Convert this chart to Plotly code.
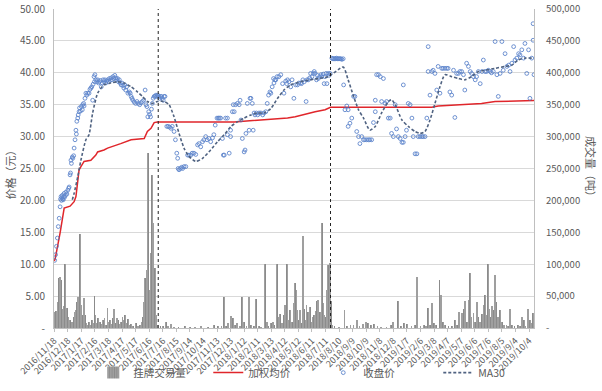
import pandas as pd
import plotly.graph_objects as go

start_date = "2016-11-18"

tick_labels = ["2016/11/18","2016/12/18","2017/1/17","2017/2/16","2017/3/18","2017/4/17","2017/5/17",
               "2017/6/16","2017/7/16","2017/8/15","2017/9/14","2017/10/14","2017/11/13","2017/12/13",
               "2018/1/12","2018/2/11","2018/3/13","2018/4/12","2018/5/12","2018/6/11","2018/7/11",
               "2018/8/10","2018/9/9","2018/10/9","2018/11/8","2018/12/8","2019/1/7","2019/2/6",
               "2019/3/8","2019/4/7","2019/5/7","2019/6/6","2019/7/6","2019/8/5","2019/9/4","2019/10/4"]

# day offsets from start_date
close_day = [1,3,5,7,9,11,13,14,15,16,17,18,19,20,21,22,23,25,26,28,30,32,33,35,36,37,38,40,41,43,44,
             46,48,49,50,52,53,55,56,58,60,62,63,65,66,68,70,72,74,77,79,81,83,85,86,88,89,90,92,94,96,98,
             100,102,104,106,108,110,112,114,116,118,120,122,124,126,128,130,132,134,136,138,140,142,144,146,148,150,
             152,154,156,158,160,163,166,168,170,172,174,177,180,183,186,189,192,195,198,201,203,205,207,209,211,213,
             215,217,219,221,223,225,227,229,231,233,235,237,239,241,243,245,
             249,252,255,258,261,265,268,271,273,274,276,279,282,284,287,291,295,298,302,305,309,313,317,320,324,328,
             331,335,338,342,346,350,353,356,360,363,365,368,372,374,376,379,383,383,387,390,390,394,396,398,401,405,
             409,411,413,416,420,422,424,427,431,433,435,438,440,442,444,447,450,453,457,461,464,468,471,474,477,479,
             482,485,486,488,490,493,497,501,505,508,512,514,516,519,523,526,530,534,538,541,545,
             547,550,553,557,559,562,565,567,570,573,575,577,580,582,584,587,590,592,595,597,599,601,603,606,608,610,
             614,616,618,620,622,624,626,628,630,632,634,636,639,640,643,647,650,650,654,658,662,665,669,673,676,680,
             684,687,691,695,698,702,706,710,710,713,717,721,724,728,732,735,739,743,746,750,754,757,761,765,769,772,
             772,776,779,783,787,791,794,798,802,805,809,813,816,820,824,827,827,831,835,838,842,846,849,853,857,860,
             864,868,871,875,879,883,886,890,894,897,901,905,908,912,916,920,923,927,931,934,938,942,946,949,953,956,
             960,964,967,971,975,979,982,986,990,993,997,1001,1005,1008,1012,1016,1019,1023,1027,1030,1034,1038,1041,
             1045,1049,1052,1056,1059,1059,1061]
close_price = [10.6,11.5,12.8,14.1,15.9,17.2,19.0,20.2,20.6,20.0,20.4,20.8,20.2,20.1,20.6,21.1,20.5,20.8,21.3,21.0,21.6,21.9,22.1,24.0,24.3,26.3,25.8,26.8,26.6,27.0,28.2,
               29.5,31.0,30.4,32.4,32.9,33.4,33.9,34.5,34.0,34.7,34.2,35.0,35.2,34.8,36.0,36.8,36.5,36.8,36.8,37.4,37.6,37.8,35.7,38.2,39.4,38.6,39.7,38.9,38.6,38.9,38.4,
               38.6,38.8,37.8,38.4,38.9,38.6,38.9,38.4,38.7,38.9,38.6,39.1,38.8,39.2,38.9,39.4,39.1,39.6,39.2,38.9,39.1,38.6,38.9,38.4,38.1,38.4,
               38.0,37.6,38.1,37.3,37.8,36.8,37.0,36.8,36.3,36.0,35.7,35.4,35.2,35.5,35.2,35.0,35.3,35.5,35.7,37.3,35.0,34.7,33.1,33.9,33.5,33.1,
               34.3,35.2,36.0,36.3,36.3,36.5,36.3,36.5,36.3,36.0,36.3,36.3,36.0,35.7,36.3,36.3,
               31.6,31.6,31.5,31.3,31.6,30.8,29.5,27.4,26.6,25.0,24.8,25.0,25.2,25.0,25.3,25.3,27.1,27.1,27.1,27.4,27.4,27.2,28.7,28.9,28.4,29.2,
               29.5,30.0,29.5,29.7,29.2,29.8,30.3,31.8,32.9,32.9,32.9,32.9,29.7,27.1,27.1,32.9,32.9,30.3,27.4,30.0,31.0,33.9,35.0,33.9,35.0,35.2,
               35.0,35.7,32.6,29.7,27.6,27.9,30.5,35.2,31.0,36.0,36.0,35.2,31.0,33.7,33.4,33.7,33.4,33.7,33.7,33.4,33.7,33.9,35.2,36.5,37.0,36.8,
               37.8,39.1,38.4,38.9,38.9,39.4,39.4,39.7,38.3,36.8,38.7,38.3,38.9,38.6,37.8,38.9,36.0,38.1,38.1,38.4,38.4,
               38.3,38.9,38.6,35.5,38.9,38.9,39.2,39.9,39.4,39.9,40.2,39.9,38.9,39.6,39.1,39.4,39.7,39.4,39.8,38.3,39.4,39.9,38.3,39.9,39.6,39.9,
               42.3,42.2,42.2,42.2,42.2,42.3,42.2,42.2,42.2,42.2,42.2,42.1,42.2,38.1,34.2,34.8,34.2,31.6,32.1,32.9,36.3,36.3,30.8,30.0,28.9,30.0,
               29.5,29.5,29.5,29.5,29.5,29.5,32.2,33.9,35.7,39.7,39.7,39.4,35.5,39.1,35.2,35.5,32.9,32.9,30.5,30.0,35.0,31.2,30.0,29.7,29.1,29.1,
               38.1,30.0,31.0,35.2,35.0,32.9,30.0,27.3,27.3,30.0,30.0,30.0,30.0,30.0,32.9,44.1,40.2,36.5,40.2,40.4,39.9,37.3,41.0,36.8,40.7,40.7,
               40.7,40.7,40.7,37.0,36.5,40.4,33.0,39.9,39.9,40.2,40.2,39.7,37.3,41.5,41.0,40.2,39.9,39.4,38.9,39.4,40.2,38.3,40.2,42.0,40.2,40.2,
               40.4,40.2,40.0,40.2,44.9,39.7,36.3,39.9,44.9,40.4,43.0,41.0,41.2,40.2,41.5,44.1,42.0,42.3,43.0,42.8,43.6,42.3,44.6,
               39.9,43.6,36.0,42.3,45.1,47.7,39.7]

ma_day = [40,44,52,59,70,77,85,96,110,125,140,155,170,184,195,206,217,228,243,254,265,276,287,298,313,328,346,
          361,376,391,405,420,435,449,464,479,494,508,523,545,575,606,639,650,662,673,684,698,710,724,739,746,754,
          769,783,798,809,820,831,842,853,864,879,894,908,923,938,953,975,997,1012,1026,1041,1056]
ma_price = [20.1,21.1,23.7,26.3,29.5,30.3,33.7,36.8,38.1,38.4,38.6,38.4,37.8,37.0,36.3,35.5,35.2,35.5,35.5,35.0,33.1,
            30.5,28.2,26.9,26.1,26.6,27.9,29.2,30.3,31.6,32.3,32.9,33.4,33.7,33.7,34.4,36.0,37.3,38.1,38.6,39.0,39.4,
            40.9,38.9,36.3,34.2,32.9,31.0,31.6,33.7,35.5,35.8,35.0,32.6,31.6,30.8,30.5,30.8,32.6,35.2,37.8,39.7,39.4,
            39.1,38.9,39.4,40.2,40.4,40.7,41.0,41.2,42.0,42.3,42.3]

wavg_day = [0,2,13,17,22,35,44,48,55,59,66,81,92,96,110,118,125,147,170,199,206,214,221,228,398,471,516,533,
            553,577,599,611,680,835,849,901,945,975,1048,1061]
wavg_price = [10.5,10.8,14.9,16.9,18.8,19.1,19.8,20.6,24.8,25.3,26.1,26.3,27.1,27.6,27.9,28.2,28.4,28.9,29.5,29.7,
              30.8,31.3,32.2,32.3,32.3,32.6,32.9,33.1,33.5,33.9,34.2,34.6,34.6,34.6,34.8,35.0,35.2,35.5,35.65,35.65]

vol_day = [2,4,6,9,11,13,15,17,19,21,23,25,27,29,31,33,35,37,40,43,45,47,50,52,55,57,59,61,63,65,67,69,71,74,77,
           81,83,86,89,91,93,96,99,102,105,108,111,114,118,121,124,127,130,133,136,139,142,145,148,151,154,157,160,
           163,166,170,175,180,185,190,194,197,199,201,203,204,206,208,210,211,213,215,217,219,220,222,224,226,228,
           235,240,247,252,258,265,275,290,300,312,325,340,354,362,370,376,380,384,391,396,400,404,410,416,420,425,
           431,436,441,447,452,458,466,470,474,479,483,487,492,496,500,504,507,510,514,518,522,526,529,532,534,537,
           540,543,546,550,553,556,558,561,564,566,569,572,575,578,581,584,588,592,594,597,600,602,605,607,610,612,
           615,620,630,642,648,655,662,669,675,683,689,694,700,708,715,722,735,745,750,760,766,773,780,790,797,803,
           810,818,822,826,831,836,840,845,852,855,859,865,872,880,886,890,895,901,905,909,913,916,920,923,927,931,
           935,938,942,946,950,953,956,959,962,966,968,972,975,978,982,986,990,995,1000,1004,1008,1012,1018,1025,
           1030,1034,1038,1042,1048,1052,1056,1058,1061]
vol_tons = [25000,26000,12000,40000,78000,80000,75000,30000,20000,35000,101000,21000,12000,31000,18000,8000,13000,
            6000,10000,18000,25000,29000,40000,49000,30000,148000,36000,20000,12000,47000,30000,21000,8000,5000,10000,
            4000,12000,8000,50000,21000,8000,15000,5000,10000,6000,12000,15000,4000,31000,10000,13000,7000,15000,30000,
            8000,16000,13000,6000,10000,17000,12000,20000,8000,14000,5000,6000,3000,8000,2000,5000,9000,18000,40000,
            78000,60000,78000,91000,274000,60000,33000,117000,50000,240000,164000,91000,94000,50000,20000,5000,
            2000,3000,10000,2000,6000,1500,1000,2000,1500,1000,2500,1500,5000,2000,3000,48000,3000,8000,19000,16000,
            5000,8000,3000,49000,10000,3000,48000,5000,2000,45000,2000,1500,100000,10000,3000,8000,10000,5000,100000,
            18000,22000,8000,20000,36000,100000,12000,28000,10000,39000,71000,60000,28000,12000,28000,8000,144000,
            30000,12000,36000,25000,15000,33000,10000,18000,20000,26000,42000,44000,25000,165000,39000,20000,18000,
            60000,99000,60000,102000,42000,5000,2000,1500,29000,3000,4000,5000,12000,3000,6000,10000,8000,4000,6000,
            3000,1500,1000,4000,10000,43000,3000,8000,6000,2000,4000,80000,2000,4000,3000,31000,4000,39000,8000,4000,
            76000,52000,10000,4000,2000,3000,12000,5000,25000,24000,30000,42000,10000,44000,86000,18000,24000,10000,
            40000,18000,10000,22000,36000,51000,20000,100000,30000,18000,34000,28000,83000,40000,18000,28000,10000,
            5000,5000,2000,30000,4000,2000,5000,2000,17000,12000,3000,30000,12000,8000,23000,18000]

event_day = [230, 611]

base = pd.Timestamp(start_date)
to_dates = lambda days: [base + pd.Timedelta(days=d) for d in days]

font_family = "Noto Sans CJK SC, Noto Sans, sans-serif"
txt = "#595959"

fig = go.Figure()
fig.add_trace(go.Bar(
    x=to_dates(vol_day), y=vol_tons, name="挂牌交易量", yaxis="y",
    width=1.8 * 86400000,
    marker=dict(color="#8c8c8c", line=dict(width=0),
                pattern=dict(shape="|", fgcolor="#6f6f6f", bgcolor="#a6a6a6", size=3, solidity=0.5)),
))
fig.add_trace(go.Scatter(
    x=to_dates(wavg_day), y=wavg_price, name="加权均价", yaxis="y2", mode="lines",
    line=dict(color="#e0262b", width=1.5),
))
fig.add_trace(go.Scatter(
    x=to_dates(close_day), y=close_price, name="收盘价", yaxis="y2", mode="markers",
    marker=dict(symbol="circle-open", size=3.8, color="#4472c4", line=dict(width=0.9)),
    opacity=0.85,
))
fig.add_trace(go.Scatter(
    x=to_dates(ma_day), y=ma_price, name="MA30", yaxis="y2", mode="lines",
    line=dict(color="#4f6281", width=1.6, dash="3px,2px", shape="spline", smoothing=0.6),
))

for d in event_day:
    dt = base + pd.Timedelta(days=d)
    fig.add_shape(type="line", xref="x", yref="paper", x0=dt, x1=dt, y0=0, y1=1,
                  line=dict(color="#222222", width=1, dash="dot"))

left_vals = list(range(0, 55, 5))
left_text = ["-"] + [f"{v:.2f}" for v in left_vals[1:]]
right_vals = list(range(0, 550000, 50000))
right_text = ["-"] + [f"{v:,}" for v in right_vals[1:]]
tick_dates = pd.to_datetime(tick_labels, format="%Y/%m/%d")

fig.update_layout(
    width=602, height=391,
    margin=dict(l=54, r=68, t=9, b=63),
    paper_bgcolor="white", plot_bgcolor="white",
    font=dict(family=font_family, size=10, color=txt),
    bargap=0,
    showlegend=True,
    legend=dict(orientation="h", xref="container", yref="container",
                x=0.537, xanchor="center", y=0.047, yanchor="middle",
                font=dict(size=10.5, color=txt), entrywidth=70, itemwidth=30,
                traceorder="normal", bgcolor="rgba(0,0,0,0)"),
    xaxis=dict(type="date", range=[base - pd.Timedelta(hours=12), base + pd.Timedelta(days=1061)],
               tickvals=tick_dates, ticktext=tick_labels, tickangle=-45, automargin=False,
               tickfont=dict(size=9, color=txt), showgrid=False, showline=True,
               linecolor="#bfbfbf", linewidth=1, ticks="outside", ticklen=3, tickcolor="#bfbfbf",
               zeroline=False),
    yaxis=dict(side="right", range=[0, 500000], tickvals=right_vals, ticktext=right_text, automargin=False,
               tickfont=dict(size=9.5, color=txt), showgrid=True, gridcolor="#d9d9d9", gridwidth=1,
               showline=True, linecolor="#bfbfbf", zeroline=False, ticklabelstandoff=9),
    yaxis2=dict(side="left", overlaying="y", range=[0, 50], tickvals=left_vals, ticktext=left_text,
                automargin=False,
                tickfont=dict(size=10, color=txt), showgrid=False, showline=True, linecolor="#bfbfbf",
                zeroline=False, ticklabelstandoff=6),
    annotations=[
        dict(text="价格（元）", xref="paper", yref="paper", x=-0.092, y=0.49, showarrow=False,
             textangle=-90, font=dict(size=11, color=txt), xanchor="center", yanchor="middle"),
        dict(text="成交量（吨）", xref="paper", yref="paper", x=1.12, y=0.50, showarrow=False,
             textangle=90, font=dict(size=11, color=txt), xanchor="center", yanchor="middle"),
    ],
)

fig.write_html("out.html", config={"displayModeBar": False},
               post_script="document.body.style.margin='0px';document.body.style.overflow='hidden';")
